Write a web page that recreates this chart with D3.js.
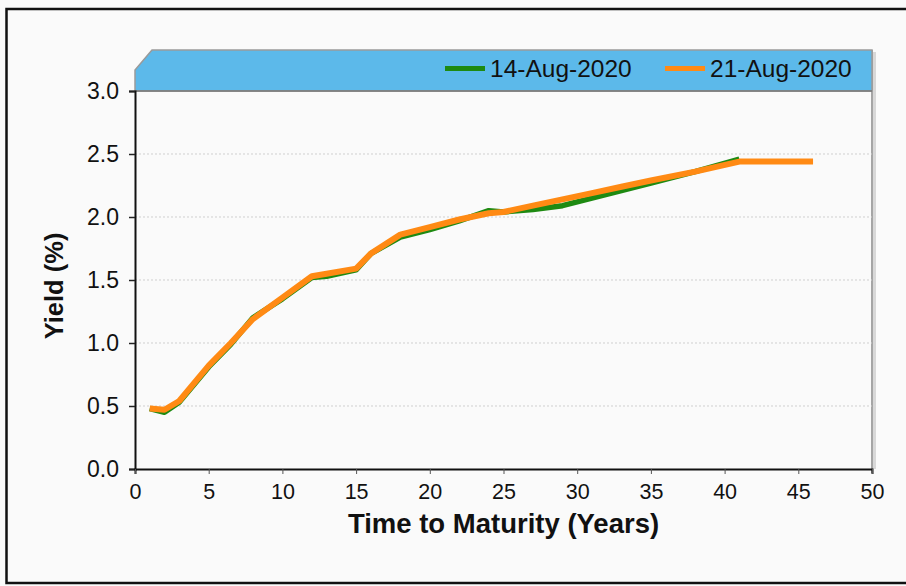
<!DOCTYPE html>
<html><head><meta charset="utf-8">
<script src="https://cdn.jsdelivr.net/npm/d3@7"></script>
<style>html,body{margin:0;padding:0;background:#fafafa;}svg{display:block;font-family:"Liberation Sans",Arial,sans-serif;}</style>
</head><body>
<script>
const seriesNames = ["14-Aug-2020", "21-Aug-2020"];
const seriesColors = ["#1e8a12", "#ff8a14"];
const maturity14 = [1, 2, 3, 5, 6.5, 8, 10, 12, 13, 15, 16, 18, 20, 22, 24, 25, 27, 29, 31, 33, 35, 38, 41];
const yield14 = [0.48, 0.45, 0.53, 0.81, 0.99, 1.20, 1.35, 1.52, 1.53, 1.58, 1.71, 1.84, 1.90, 1.97, 2.05, 2.04, 2.06, 2.09, 2.15, 2.21, 2.27, 2.36, 2.46];
const maturity21 = [1, 2, 3, 5, 6.5, 8, 10, 12, 13, 15, 16, 18, 20, 22, 24, 25, 27, 29, 31, 33, 35, 38, 41, 43, 46];
const yield21 = [0.48, 0.47, 0.54, 0.82, 1.00, 1.19, 1.36, 1.53, 1.55, 1.59, 1.71, 1.86, 1.92, 1.98, 2.03, 2.04, 2.09, 2.14, 2.19, 2.24, 2.29, 2.36, 2.44, 2.44, 2.44];
const xTicks = [0, 5, 10, 15, 20, 25, 30, 35, 40, 45, 50];
const yTicks = [0.0, 0.5, 1.0, 1.5, 2.0, 2.5, 3.0];
const xTitle = "Time to Maturity (Years)";
const yTitle = "Yield (%)";

const W = 906, H = 586;
const L = 135, R = 872, T = 91, B = 469, bandTop = 50;
const svg = d3.select("body").append("svg").attr("width", W).attr("height", H);

// outer frame
svg.append("rect").attr("x", 6.5).attr("y", 9).attr("width", 910).attr("height", 574)
  .attr("fill", "#fafafa").attr("stroke", "#111").attr("stroke-width", 2.5);

const x = d3.scaleLinear().domain([0, 50]).range([L, R]);
const y = d3.scaleLinear().domain([0, 3]).range([B, T]);

// plot bg
svg.append("rect").attr("x", L).attr("y", T).attr("width", R - L).attr("height", B - T).attr("fill", "#fafafa");

// right shadow
svg.append("rect").attr("x", R + 1).attr("y", bandTop + 2).attr("width", 3).attr("height", B - bandTop - 2).attr("fill", "#d8d8d8");
svg.append("line").attr("x1", R).attr("x2", R).attr("y1", bandTop).attr("y2", B + 4).attr("stroke", "#888").attr("stroke-width", 1.5);

// header band
svg.append("path")
  .attr("d", `M${L},${T} L${L},${T - 21} L${L + 17},${bandTop} L${R},${bandTop} L${R},${T} Z`)
  .attr("fill", "#5cb9ea").attr("stroke", "#9a9a9a").attr("stroke-width", 1.5);
svg.append("line").attr("x1", L).attr("x2", R).attr("y1", T).attr("y2", T).attr("stroke", "#777").attr("stroke-width", 1.5);

// gridlines
svg.append("g").selectAll("line").data(yTicks.filter(d => d > 0 && d < 3)).join("line")
  .attr("x1", L).attr("x2", R).attr("y1", d => y(d)).attr("y2", d => y(d))
  .attr("stroke", "#cfcfcf").attr("stroke-width", 1).attr("stroke-dasharray", "2,2");

// axes
const yAxis = svg.append("g").attr("transform", `translate(${L},0)`)
  .call(d3.axisLeft(y).tickValues(yTicks).tickFormat(d3.format(".1f")).tickSize(6).tickPadding(10));
const xAxis = svg.append("g").attr("transform", `translate(0,${B})`)
  .call(d3.axisBottom(x).tickValues(xTicks).tickFormat(d3.format("d")).tickSize(5).tickPadding(10));
[yAxis, xAxis].forEach(a => {
  a.select(".domain").attr("stroke", "#111").attr("stroke-width", 2);
  a.selectAll(".tick line").attr("stroke", "#222").attr("stroke-width", 1.5);
  a.selectAll("text").attr("fill", "#111").style("font-family", '"Liberation Sans",Arial,sans-serif');
});
yAxis.selectAll("text").style("font-size", "23px");
xAxis.selectAll("text").style("font-size", "21.5px");
xAxis.selectAll(".tick line").attr("stroke", "#555").attr("stroke-width", 1);

// lines
const line = d3.line().x(d => x(d[0])).y(d => y(d[1]));
const data14 = maturity14.map((m, i) => [m, yield14[i]]);
const data21 = maturity21.map((m, i) => [m, yield21[i]]);
svg.append("path").datum(data14).attr("d", line).attr("fill", "none")
  .attr("stroke", seriesColors[0]).attr("stroke-width", 5.5).attr("stroke-linejoin", "round");
svg.append("path").datum(data21).attr("d", line).attr("fill", "none")
  .attr("stroke", seriesColors[1]).attr("stroke-width", 6).attr("stroke-linejoin", "round");

// legend
const legendX = [445, 665];
seriesNames.forEach((n, i) => {
  svg.append("rect").attr("x", legendX[i]).attr("y", 66).attr("width", 40).attr("height", 5).attr("fill", seriesColors[i]);
  svg.append("text").attr("x", legendX[i] + 45).attr("y", 77).text(n)
    .attr("fill", "#111").style("font-size", "24.5px");
});

// titles
svg.append("text").attr("x", (L + R) / 2).attr("y", 533).attr("text-anchor", "middle")
  .style("font-size", "27.5px").style("font-weight", "bold").attr("fill", "#111").text(xTitle);
svg.append("text").attr("transform", `translate(63,${(T + B) / 2 + 6}) rotate(-90)`).attr("text-anchor", "middle")
  .style("font-size", "25.5px").style("font-weight", "bold").attr("fill", "#111").text(yTitle);
</script>
</body></html>
